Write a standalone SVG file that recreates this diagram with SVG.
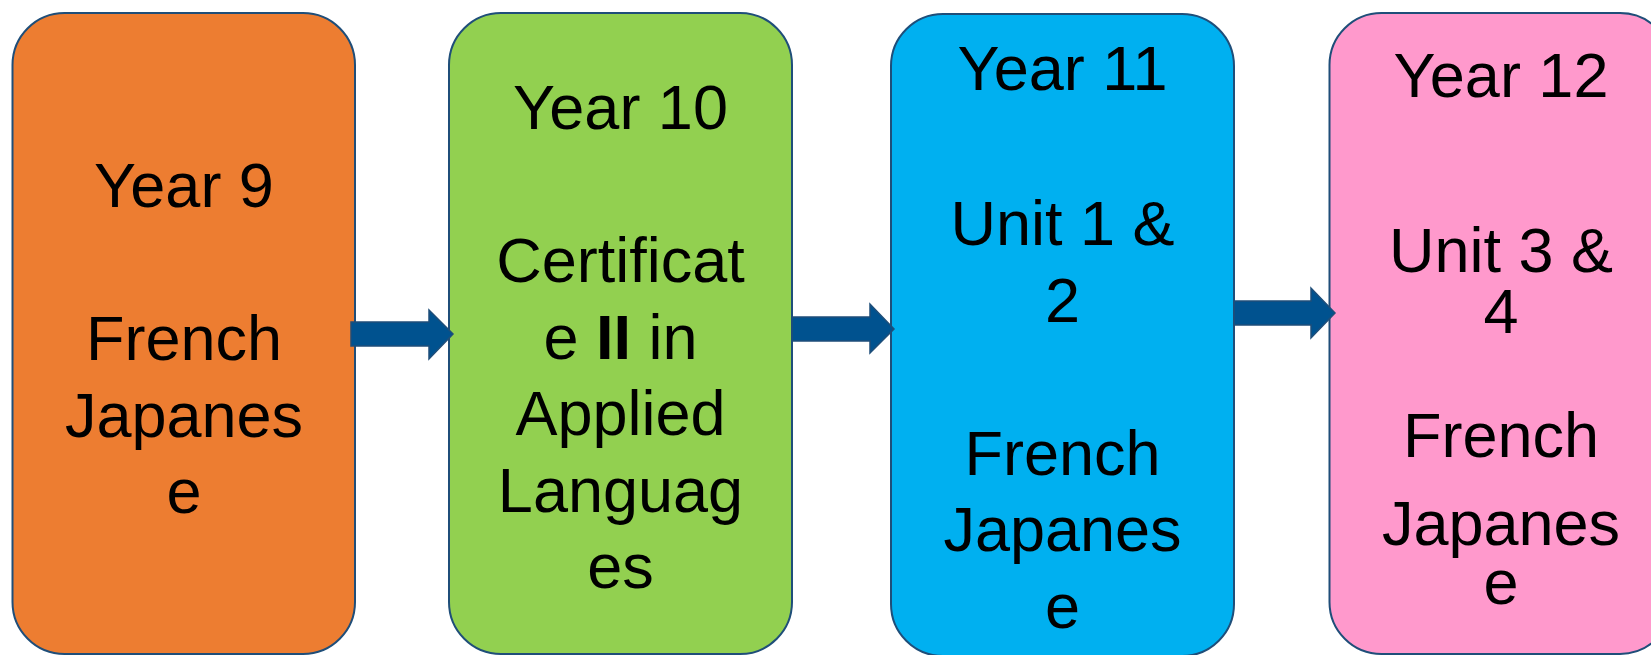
<svg xmlns="http://www.w3.org/2000/svg" width="1651" height="655" viewBox="0 0 1651 655">
  <style>
    .box { stroke: #1F4E79; stroke-width: 2; }
    .t { font-family: "Liberation Sans", Arial, sans-serif; font-size: 63px; fill: #000; text-anchor: middle; }
    .arrow { fill: #00528F; stroke: #1F4E79; stroke-width: 1.5; stroke-linejoin: miter; }
  </style>
  <rect width="1651" height="655" fill="#FFFFFF"/>
  <g id="node-year9">
    <rect class="box" x="12.5" y="13" width="342.5" height="641" rx="52" ry="52" fill="#ED7D31"/>
    <text class="t" x="184" y="207">Year 9</text>
    <text class="t" x="184" y="360">French</text>
    <text class="t" x="184" y="436.5">Japanes</text>
    <text class="t" x="184" y="513">e</text>
  </g>
  <g id="node-year10">
    <rect class="box" x="449" y="13" width="343" height="641" rx="52" ry="52" fill="#92D050"/>
    <text class="t" x="620.5" y="129">Year 10</text>
    <text class="t" x="620.5" y="282">Certificat</text>
    <text class="t" x="620.5" y="358.5">e <tspan font-weight="bold">II</tspan> in</text>
    <text class="t" x="620.5" y="435">Applied</text>
    <text class="t" x="620.5" y="511.5">Languag</text>
    <text class="t" x="620.5" y="588">es</text>
  </g>
  <g id="node-year11">
    <rect class="box" x="891" y="14" width="343" height="642" rx="52" ry="52" fill="#00B0F0"/>
    <text class="t" x="1062.5" y="90">Year 11</text>
    <text class="t" x="1062.5" y="245">Unit 1 &amp;</text>
    <text class="t" x="1062.5" y="321.5">2</text>
    <text class="t" x="1062.5" y="474.5">French</text>
    <text class="t" x="1062.5" y="551">Japanes</text>
    <text class="t" x="1062.5" y="627.5">e</text>
  </g>
  <g id="node-year12">
    <rect class="box" x="1329.5" y="13" width="342.5" height="641" rx="52" ry="52" fill="#FF99CC"/>
    <text class="t" x="1501" y="97">Year 12</text>
    <text class="t" x="1501" y="272">Unit 3 &amp;</text>
    <text class="t" x="1501" y="333">4</text>
    <text class="t" x="1501" y="457">French</text>
    <text class="t" x="1501" y="545">Japanes</text>
    <text class="t" x="1501" y="604">e</text>
  </g>
  <g id="connectors">
    <path class="arrow" d="M351,322 H429 V310 L453,334 L429,359 V346 H351 Z"/>
    <path class="arrow" d="M792,317 H870 V304 L894,329 L870,353 V341 H792 Z"/>
    <path class="arrow" d="M1234,301 H1311 V288 L1335,313 L1311,338 V325 H1234 Z"/>
  </g>
</svg>
